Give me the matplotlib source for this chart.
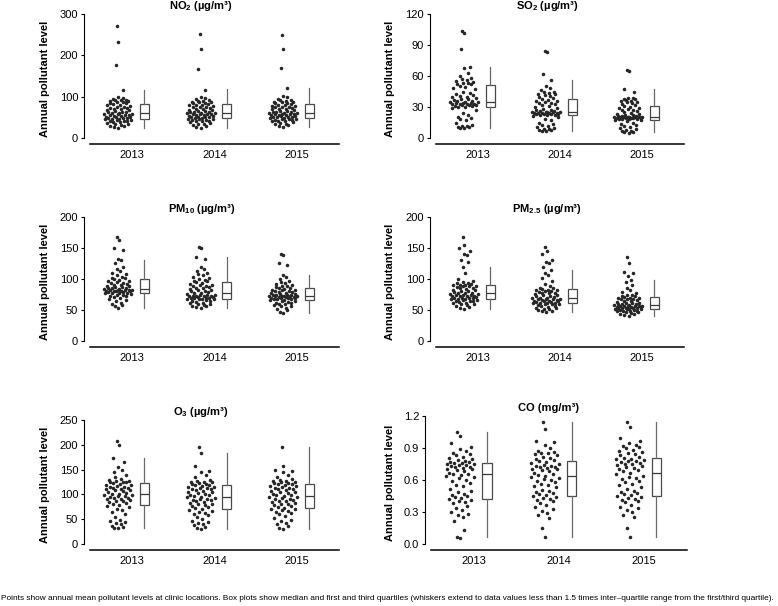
import numpy as np
import matplotlib
matplotlib.use("Agg")
import matplotlib.pyplot as plt

plt.rcParams['font.family'] = ['Liberation Sans', 'DejaVu Sans']
plt.rcParams['mathtext.fontset'] = 'custom'
plt.rcParams['mathtext.rm'] = 'Liberation Sans'
plt.rcParams['mathtext.bf'] = 'Liberation Sans:bold'

years = ['2013', '2014', '2015']

# annual means at clinic locations
no2_2013 = [23, 26, 28, 30, 32, 33, 35, 36, 38, 39, 40, 41, 42, 43, 44, 45,
            46, 47, 48, 48, 49, 50, 51, 52, 53, 54, 55, 55, 56, 57, 58, 59, 60,
            61, 62, 63, 64, 66, 67, 68, 69, 70, 72, 73, 74, 76, 77, 79, 80, 82,
            84, 85, 86, 88, 89, 90, 91, 92, 93, 95, 97, 100, 117, 177, 232, 270]
no2_2014 = [25, 27, 29, 31, 33, 35, 37, 38, 40, 41, 42, 43, 44, 45, 46, 47,
            48, 49, 50, 51, 52, 52, 53, 54, 55, 56, 57, 57, 58, 59, 60, 60, 61,
            62, 63, 64, 65, 66, 67, 68, 70, 71, 72, 74, 75, 76, 78, 79, 80, 81,
            83, 84, 85, 86, 87, 88, 89, 90, 92, 94, 96, 100, 117, 168, 216, 251]
no2_2015 = [27, 29, 31, 33, 35, 37, 39, 40, 41, 42, 43, 44, 45, 46, 47, 48,
            49, 50, 50, 51, 52, 53, 54, 55, 55, 56, 57, 58, 58, 59, 60, 60, 61,
            62, 63, 64, 65, 66, 68, 69, 70, 71, 73, 74, 75, 76, 77, 78, 80, 81,
            83, 84, 85, 86, 87, 88, 90, 91, 93, 95, 98, 102, 120, 169, 215, 249]

so2_2013 = [10, 10, 11, 11, 12, 12, 13, 15, 17, 18, 19, 20, 22, 24, 27, 29,
            30, 30, 31, 31, 32, 32, 32, 33, 33, 33, 33, 34, 34, 34, 35, 35, 35,
            36, 36, 37, 38, 38, 39, 40, 40, 41, 42, 43, 44, 45, 47, 48, 49, 50,
            52, 52, 53, 53, 54, 55, 56, 57, 58, 60, 63, 68, 69, 86, 102, 104]
so2_2014 = [7, 7, 8, 8, 9, 9, 10, 11, 12, 13, 14, 15, 17, 18, 20, 21,
            22, 22, 22, 23, 23, 23, 23, 24, 24, 24, 24, 24, 25, 25, 25, 25, 25,
            26, 26, 27, 27, 28, 29, 30, 31, 32, 33, 34, 34, 35, 36, 36, 37, 38,
            39, 40, 41, 42, 43, 43, 44, 45, 45, 46, 48, 50, 56, 62, 83, 84]
so2_2015 = [5, 6, 6, 7, 7, 8, 9, 10, 11, 12, 13, 14, 15, 16, 17, 17,
            18, 18, 18, 18, 19, 19, 19, 19, 19, 20, 20, 20, 20, 20, 20, 20, 20,
            21, 21, 21, 22, 22, 23, 23, 24, 25, 26, 27, 27, 28, 29, 29, 30, 31,
            32, 33, 34, 35, 35, 36, 36, 37, 38, 38, 39, 39, 45, 47, 65, 66]

pm10_2013 = [54, 56, 58, 60, 62, 64, 66, 68, 70, 71, 72, 73, 74, 75, 76, 77,
             77, 78, 78, 79, 79, 80, 80, 81, 81, 81, 82, 82, 83, 83, 83, 84, 84,
             85, 85, 86, 87, 87, 88, 89, 90, 91, 92, 93, 94, 95, 96, 97, 98, 100,
             101, 102, 104, 106, 108, 110, 113, 116, 120, 126, 130, 133, 147, 150, 163, 167]
pm10_2014 = [54, 55, 56, 57, 58, 59, 60, 61, 62, 63, 64, 65, 66, 67, 67, 68,
             68, 69, 69, 70, 70, 71, 71, 72, 72, 72, 73, 73, 74, 74, 75, 76, 77,
             78, 79, 80, 81, 82, 83, 84, 85, 86, 87, 88, 89, 90, 91, 92, 93, 95,
             96, 97, 98, 100, 102, 104, 106, 108, 110, 113, 116, 119, 133, 135, 150, 152]
pm10_2015 = [45, 47, 50, 52, 54, 56, 57, 58, 59, 60, 61, 62, 63, 64, 65, 66,
             66, 67, 68, 68, 69, 69, 70, 70, 71, 71, 71, 72, 72, 72, 73, 73, 73,
             74, 74, 75, 75, 76, 76, 77, 78, 79, 79, 80, 81, 82, 83, 83, 84, 85,
             86, 87, 88, 89, 91, 92, 93, 95, 97, 100, 103, 107, 123, 125, 138, 141]

pm25_2013 = [51, 53, 55, 57, 58, 59, 60, 61, 62, 63, 64, 64, 65, 66, 66, 67,
             67, 68, 69, 69, 70, 70, 71, 72, 72, 73, 73, 74, 75, 75, 76, 76, 77,
             78, 78, 79, 80, 81, 82, 83, 84, 85, 86, 87, 88, 88, 89, 90, 90, 91,
             92, 93, 94, 95, 97, 100, 110, 120, 128, 130, 138, 140, 145, 150, 155, 168]
pm25_2014 = [47, 48, 49, 50, 51, 52, 53, 54, 55, 56, 57, 58, 59, 59, 60, 61,
             61, 62, 62, 63, 63, 64, 64, 65, 65, 66, 66, 67, 67, 68, 68, 69, 69,
             70, 71, 72, 73, 74, 75, 76, 77, 78, 78, 79, 80, 81, 82, 83, 83, 84,
             85, 86, 88, 92, 97, 101, 106, 110, 115, 120, 125, 128, 131, 140, 145, 152]
pm25_2015 = [41, 42, 43, 44, 45, 46, 47, 48, 48, 49, 49, 50, 50, 51, 51, 52,
             52, 53, 53, 54, 54, 54, 55, 55, 55, 56, 56, 56, 57, 57, 57, 58, 58,
             59, 59, 60, 61, 61, 62, 63, 64, 65, 66, 67, 67, 68, 69, 70, 70, 71,
             72, 73, 74, 75, 77, 79, 82, 86, 90, 95, 99, 105, 110, 112, 125, 135]

o3_2013 = [32, 33, 35, 37, 40, 42, 44, 46, 48, 55, 60, 65, 68, 71, 74, 77,
           79, 81, 83, 84, 86, 87, 88, 90, 91, 92, 93, 95, 96, 97, 98, 99, 100,
           101, 103, 105, 107, 108, 109, 110, 111, 112, 113, 114, 115, 117, 118, 119, 121, 123,
           124, 125, 126, 127, 128, 130, 132, 135, 140, 145, 150, 155, 165, 173, 200, 207]
o3_2014 = [31, 33, 35, 38, 40, 42, 44, 47, 50, 55, 58, 60, 63, 65, 67, 69,
           71, 73, 75, 77, 78, 80, 81, 83, 85, 86, 88, 89, 90, 91, 92, 94, 95,
           96, 98, 99, 100, 102, 104, 105, 107, 108, 110, 111, 112, 113, 114, 115, 116, 118,
           119, 120, 121, 122, 124, 125, 126, 128, 130, 135, 140, 145, 148, 158, 184, 195]
o3_2015 = [31, 33, 36, 40, 43, 46, 48, 52, 57, 60, 62, 64, 66, 68, 70, 71,
           73, 75, 76, 78, 80, 81, 83, 84, 86, 87, 88, 90, 91, 93, 94, 95, 97,
           98, 99, 100, 102, 104, 105, 107, 108, 110, 111, 112, 113, 114, 116, 117, 118, 120,
           121, 122, 123, 124, 125, 127, 128, 130, 132, 135, 140, 145, 148, 150, 158, 195]

co_2013 = [0.06, 0.07, 0.13, 0.22, 0.25, 0.27, 0.28, 0.30, 0.32, 0.34, 0.36, 0.38, 0.39, 0.40, 0.41, 0.42,
           0.43, 0.44, 0.45, 0.46, 0.47, 0.49, 0.50, 0.52, 0.54, 0.55, 0.57, 0.59, 0.60, 0.62, 0.63, 0.64, 0.65,
           0.66, 0.66, 0.67, 0.68, 0.69, 0.70, 0.70, 0.71, 0.72, 0.72, 0.73, 0.74, 0.74, 0.75, 0.75, 0.76, 0.76,
           0.77, 0.77, 0.78, 0.79, 0.80, 0.81, 0.82, 0.83, 0.84, 0.85, 0.87, 0.89, 0.91, 0.95, 1.01, 1.05]
co_2014 = [0.07, 0.15, 0.24, 0.27, 0.29, 0.31, 0.33, 0.35, 0.37, 0.38, 0.40, 0.41, 0.42, 0.43, 0.44, 0.45,
           0.46, 0.47, 0.48, 0.49, 0.50, 0.51, 0.53, 0.54, 0.55, 0.56, 0.58, 0.59, 0.60, 0.61, 0.62, 0.63, 0.64,
           0.65, 0.66, 0.67, 0.68, 0.69, 0.70, 0.70, 0.71, 0.72, 0.72, 0.73, 0.73, 0.74, 0.75, 0.76, 0.77, 0.78,
           0.79, 0.80, 0.81, 0.82, 0.83, 0.84, 0.85, 0.85, 0.86, 0.87, 0.90, 0.93, 0.96, 0.97, 1.08, 1.14]
co_2015 = [0.07, 0.15, 0.25, 0.27, 0.30, 0.32, 0.34, 0.35, 0.37, 0.39, 0.40, 0.41, 0.42, 0.43, 0.44, 0.45,
           0.46, 0.47, 0.48, 0.49, 0.50, 0.52, 0.53, 0.55, 0.56, 0.58, 0.59, 0.61, 0.62, 0.63, 0.64, 0.66, 0.67,
           0.68, 0.69, 0.70, 0.71, 0.72, 0.73, 0.74, 0.75, 0.75, 0.76, 0.77, 0.78, 0.78, 0.79, 0.80, 0.80, 0.81,
           0.82, 0.83, 0.84, 0.85, 0.86, 0.87, 0.88, 0.90, 0.91, 0.92, 0.93, 0.95, 0.97, 0.99, 1.10, 1.14]

# box stats: [whisker low, q1, median, q3, whisker high]
no2_box = [[23, 45, 60, 82, 116], [25, 48, 61, 82, 118], [27, 48, 61, 82, 120]]
so2_box = [[10, 30, 35, 51, 69], [7, 22, 25, 38, 56], [5.5, 17.5, 20, 31, 47]]
pm10_box = [[54, 77, 84, 100, 130], [54, 68, 77, 95, 135], [45, 66, 73, 85, 107]]
pm25_box = [[51, 67, 77, 91, 120], [47, 61, 69, 84, 115], [41, 52, 58, 71, 99]]
o3_box = [[32, 78, 100, 123, 173], [31, 70, 95, 118, 184], [31, 72, 97, 120, 195]]
co_box = [[0.07, 0.42, 0.655, 0.76, 1.05], [0.07, 0.45, 0.64, 0.776, 1.14], [0.07, 0.45, 0.67, 0.81, 1.14]]

no2_ticks = [0, 100, 200, 300]
so2_ticks = [0, 30, 60, 90, 120]
pm_ticks = [0, 50, 100, 150, 200]
o3_ticks = [0, 50, 100, 150, 200, 250]
co_ticks = [0.0, 0.3, 0.6, 0.9, 1.2]

caption = ("Points show annual mean pollutant levels at clinic locations. Box plots show median and first "
           "and third quartiles (whiskers extend to data values less than 1.5 times inter\u2013quartile range "
           "from the first/third quartile).")

W, H = 778, 606
fig = plt.figure(figsize=(W / 100, H / 100), dpi=100)


def vdc(n):
    out = []
    for i in range(1, n + 1):
        v, den, k = 0.0, 1.0, i
        while k:
            den *= 2
            k, r = divmod(k, 2)
            v += r / den
        out.append(v)
    return np.array(out)


def quasi(y, width):
    # quasirandom offsets, scaled by local density
    y = np.asarray(y, float)
    n = len(y)
    iqr = np.subtract(*np.percentile(y, [75, 25]))
    bw = 1.1 * min(y.std(ddof=1), iqr / 1.34) * n ** -0.2
    d = np.exp(-0.5 * ((y[:, None] - y[None, :]) / bw) ** 2).sum(1)
    d = np.sqrt(d / d.max())
    rank = np.argsort(np.argsort(y, kind='stable'), kind='stable')
    return (vdc(n)[rank] - 0.5) * 2 * width * d


panels = [
    (r'NO$_\mathbf{2}$ (µg/m³)', [no2_2013, no2_2014, no2_2015], no2_box, no2_ticks, '{:.0f}', (90, 339, 14, 138), 201),
    (r'SO$_\mathbf{2}$ (µg/m³)', [so2_2013, so2_2014, so2_2015], so2_box, so2_ticks, '{:.0f}', (436, 684, 14, 138), 547),
    (r'PM$_\mathbf{10}$ (µg/m³)', [pm10_2013, pm10_2014, pm10_2015], pm10_box, pm_ticks, '{:.0f}', (90, 339, 217, 341), 202),
    (r'PM$_\mathbf{2.5}$ (µg/m³)', [pm25_2013, pm25_2014, pm25_2015], pm25_box, pm_ticks, '{:.0f}', (436, 684, 217, 341), 547),
    (r'O$_\mathbf{3}$ (µg/m³)', [o3_2013, o3_2014, o3_2015], o3_box, o3_ticks, '{:.0f}', (90, 339, 420, 544), 201),
    ('CO (mg/m³)', [co_2013, co_2014, co_2015], co_box, co_ticks, '{:.1f}', (431, 687, 416, 544), 549),
]

for title, groups, boxes, ticks, fmt, (xl, xr, yt, yb), tx in panels:
    ax = fig.add_axes([xl / W, 1 - yb / H, (xr - xl) / W, (yb - yt) / H])
    for i, vals in enumerate(groups):
        pos = i + 1
        ax.scatter(pos - 0.165 + quasi(vals, 0.18), vals, s=6.5, color='#262626',
                   linewidths=0, zorder=3)
    stats = [dict(whislo=b[0], q1=b[1], med=b[2], q3=b[3], whishi=b[4], fliers=[])
             for b in boxes]
    ax.bxp(stats, positions=[1.15, 2.15, 3.15], widths=0.11, showcaps=False,
           showfliers=False, patch_artist=True,
           boxprops=dict(facecolor='white', edgecolor='#4a4a4a', linewidth=0.9),
           whiskerprops=dict(color='#6a6a6a', linewidth=0.9),
           medianprops=dict(color='#3a3a3a', linewidth=0.9))
    ax.set_xlim(0.49, 3.51)
    ax.set_ylim(ticks[0], ticks[-1])
    ax.set_xticks([1, 2, 3])
    ax.set_xticklabels(years)
    ax.set_yticks(ticks)
    ax.set_yticklabels([fmt.format(t) for t in ticks])
    for s in ['top', 'right']:
        ax.spines[s].set_visible(False)
    ax.spines['left'].set_position(('outward', 4.3))
    ax.spines['bottom'].set_position(('outward', 4.3))
    ax.spines['left'].set_bounds(ticks[0], ticks[-1])
    ax.spines['left'].set_linewidth(0.8)
    ax.spines['bottom'].set_linewidth(1.1)
    ax.tick_params(axis='x', length=0, pad=4.5, labelsize=8)
    ax.tick_params(axis='y', length=2.2, width=0.8, pad=2, labelsize=8)
    ax.patch.set_visible(False)
    fig.text(tx / W, 1 - (yt - 8) / H, title, ha='center', va='center',
             fontsize=8, fontweight='bold')
    lx = 45 if xl < 400 else 390
    fig.text(lx / W, 1 - ((yt + yb) / 2 + 3) / H, 'Annual pollutant level',
             rotation=90, ha='center', va='center', fontsize=8, fontweight='bold')

cap = fig.text(1 / W, 1 - 598 / H, caption, ha='left', va='center', fontsize=5.4)
fig.canvas.draw()
w = cap.get_window_extent().width
cap.set_fontsize(5.4 * 774 / w)

fig.savefig('out.png', dpi=100)
